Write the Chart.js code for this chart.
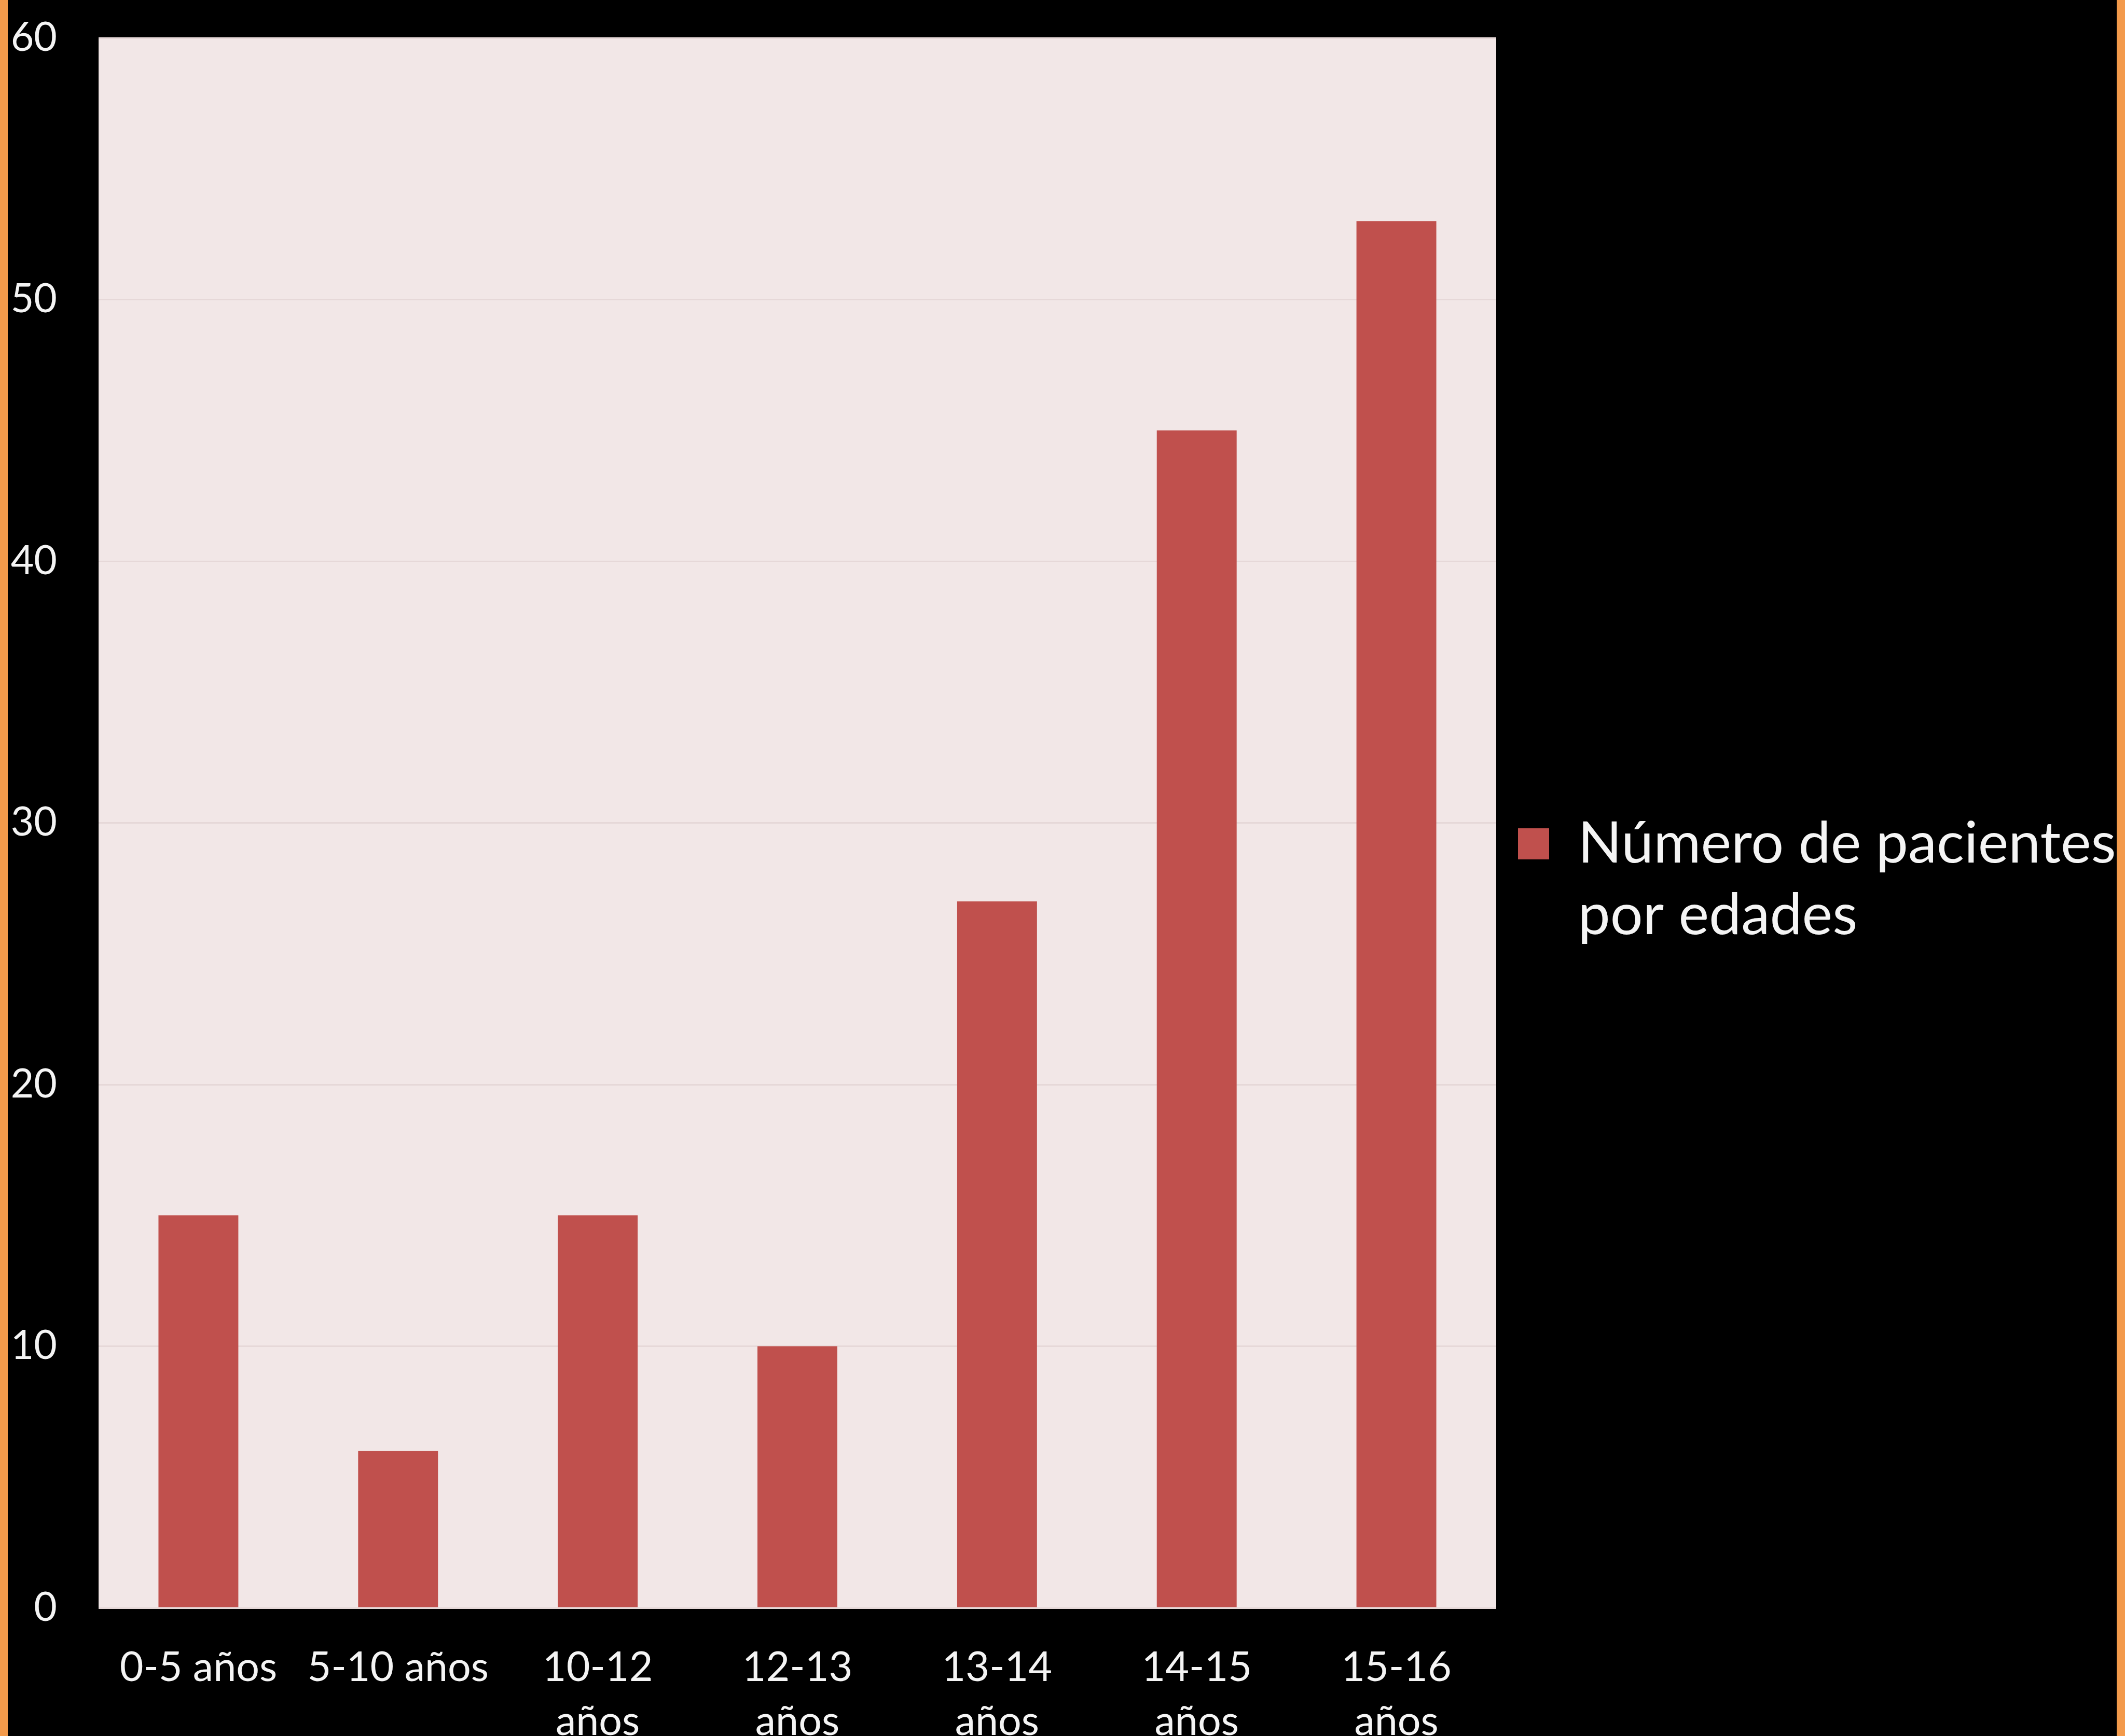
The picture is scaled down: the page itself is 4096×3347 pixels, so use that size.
<!doctype html>
<html>

<head>
    <meta charset="utf-8">
    <script src="https://cdn.jsdelivr.net/npm/chart.js@4.4.1/dist/chart.umd.min.js"></script>
    <style>
        html, body {
            margin: 0;
            padding: 0;
            background: #000;
            overflow: hidden;
        }

        #wrap {
            position: absolute;
            left: 15px;
            top: 0;
            width: 4065px;
            height: 3347px;
            background: #000;
        }

        /* orange frame strips on both sides */
        .edge {
            position: absolute;
            top: 0;
            height: 3347px;
            background: #f39a4b;
        }
    </style>
    <script>
        const categories = ['0-5 años', '5-10 años', ['10-12', 'años'], ['12-13', 'años'], ['13-14', 'años'], ['14-15', 'años'], ['15-16', 'años']];
        const pacientes = [15, 6, 15, 10, 27, 45, 53];
        const legendLines = ['Número de pacientes', 'por edades'];
        const yMin = 0;
        const yMax = 60;
        const yStep = 10;

        const barColor = '#c0504d';
        const textColor = '#f4f4f4';

        // pale pink fill behind the bars
        const plotBg = {
            id: 'plotBg',
            beforeDraw(chart) {
                const { ctx, chartArea: a } = chart;
                ctx.save();
                ctx.fillStyle = '#f2e7e7';
                ctx.fillRect(a.left, a.top, a.width, a.height);
                ctx.restore();
            }
        };

        const data = {
            labels: categories,
            datasets: [{
                label: legendLines.join(' '),
                data: pacientes,
                backgroundColor: barColor,
                borderWidth: 0,
                barPercentage: 0.4,
                categoryPercentage: 1.0
            }]
        };

        const config = {
            type: 'bar',
            data: data,
            plugins: [plotBg],
            options: {
                responsive: true,
                maintainAspectRatio: false,
                animation: false,
                layout: {
                    padding: { top: 73, left: 0, right: 0, bottom: 0 }
                },
                plugins: {
                    tooltip: { enabled: false },
                    legend: {
                        position: 'right',
                        align: 'center',
                        maxWidth: 1196,
                        labels: {
                            boxWidth: 60,
                            boxHeight: 60,
                            padding: 42,
                            color: textColor,
                            font: { family: 'Lato', size: 111, lineHeight: 1.25 },
                            generateLabels: () => [{
                                text: legendLines,
                                fillStyle: barColor,
                                strokeStyle: barColor,
                                lineWidth: 0,
                                fontColor: textColor,
                                hidden: false,
                                datasetIndex: 0
                            }]
                        }
                    }
                },
                scales: {
                    x: {
                        grid: { display: false },
                        border: { display: false },
                        ticks: {
                            color: textColor,
                            font: { family: 'Lato', size: 79, lineHeight: 1.32 },
                            padding: 55,
                            maxRotation: 0,
                            autoSkip: false
                        },
                        afterFit: (scale) => { scale.height = 247; }
                    },
                    y: {
                        min: yMin,
                        max: yMax,
                        // invisible tick marks keep the labels clear of the plot
                        grid: { color: '#e6d8d8', lineWidth: 3, drawTicks: true, tickLength: 80, tickColor: 'rgba(0,0,0,0)' },
                        border: { display: false },
                        ticks: {
                            stepSize: yStep,
                            color: textColor,
                            font: { family: 'Lato', size: 77 },
                            padding: 0
                        },
                        afterFit: (scale) => { scale.width = 175; }
                    }
                }
            }
        };
    </script>
</head>

<body>
    <div class="edge" style="left:0;width:15px"></div>
    <div id="wrap"><canvas id="chart"></canvas></div>
    <div class="edge" style="left:4080px;width:16px"></div>
</body>
<script>
    const ctx = document.getElementById('chart').getContext('2d');
    const chart = new Chart(ctx, config);
</script>

</html>
